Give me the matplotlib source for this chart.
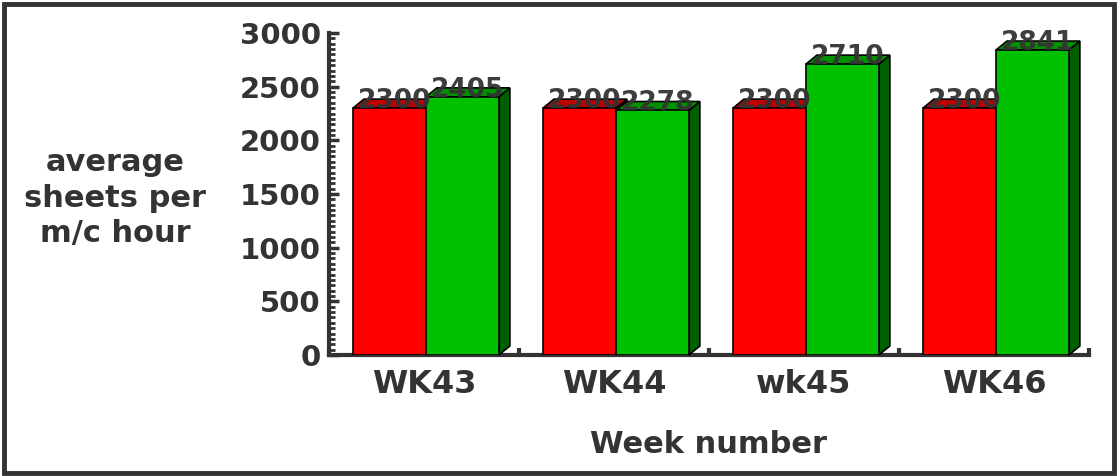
import numpy as np
import matplotlib.pyplot as plt
from matplotlib.patches import Polygon, Rectangle
from matplotlib.ticker import MultipleLocator

# data
weeks = ["WK43", "WK44", "wk45", "WK46"]
target = [2300, 2300, 2300, 2300]
actual = [2405, 2278, 2710, 2841]

front_cols = ["#ff0000", "#00c000"]
top_cols = ["#c00000", "#009000"]
side_cols = ["#900000", "#006000"]
txt = "#333333"

plt.rcParams['font.family'] = 'DejaVu Sans'
plt.rcParams['font.weight'] = 'bold'

fig = plt.figure(figsize=(11.17, 4.76), dpi=100)
ax = fig.add_axes([329 / 1117, 1 - 355 / 476, 760 / 1117, 322 / 476])

x = np.arange(len(weeks)) + 0.5
w = 0.384
dx = 11 / 190       # depth offset in x data units
dy = 9 / 322 * 3000  # depth offset in y data units

for k, vals in enumerate([target, actual]):
    xs = x - w / 2 + 0.01 + (k * w)
    ax.bar(xs, vals, width=w, color=front_cols[k], edgecolor="black", linewidth=1.2, zorder=3)
    for xi, v in zip(xs, vals):
        l, r = xi - w / 2, xi + w / 2
        top = Polygon([(l, v), (l + dx, v + dy), (r + dx, v + dy), (r, v)], closed=True,
                      facecolor=top_cols[k], edgecolor="black", linewidth=1.2, zorder=2.9,
                      clip_on=False)
        side = Polygon([(r, 0), (r + dx, dy), (r + dx, v + dy), (r, v)], closed=True,
                       facecolor=side_cols[k], edgecolor="black", linewidth=1.2, zorder=2.8,
                       clip_on=False)
        ax.add_patch(top)
        ax.add_patch(side)
        ax.text(xi + dx / 2, v, f"{v}", ha="center", va="baseline", fontsize=19,
                fontweight="bold", color=txt, alpha=0.95, zorder=5, clip_on=False)

ax.set_xlim(0, len(weeks))
ax.set_ylim(0, 3000)
ax.set_xticks(x)
ax.set_xticklabels(weeks)
ax.xaxis.set_minor_locator(MultipleLocator(1))
ax.yaxis.set_major_locator(MultipleLocator(500))
ax.yaxis.set_minor_locator(MultipleLocator(50))

ax.tick_params(axis="y", which="major", direction="in", length=7, width=2.5, color=txt,
               labelsize=21, labelcolor=txt, pad=6)
ax.tick_params(axis="y", which="minor", direction="in", length=4, width=2, color=txt)
ax.tick_params(axis="x", which="major", length=0, labelsize=23, labelcolor=txt, pad=10)
ax.tick_params(axis="x", which="minor", direction="in", length=5, width=3, color=txt)
for lab in ax.get_xticklabels() + ax.get_yticklabels():
    lab.set_fontweight("bold")

for s in ["top", "right"]:
    ax.spines[s].set_visible(False)
for s in ["left", "bottom"]:
    ax.spines[s].set_linewidth(3)
    ax.spines[s].set_color(txt)
ax.set_facecolor("none")

fig.text(115 / 1117, 1 - 198 / 476, "average\nsheets per\nm/c hour", ha="center", va="center",
         fontsize=22, fontweight="bold", color=txt, linespacing=1.3)
fig.text(708 / 1117, 1 - 453 / 476, "Week number", ha="center", va="baseline",
         fontsize=22, fontweight="bold", color=txt)

fig.patches.append(Rectangle((4 / 1117, 3 / 476), 1110 / 1117, 469 / 476, transform=fig.transFigure,
                             fill=False, edgecolor=txt, linewidth=3.5))

fig.savefig("out.png", dpi=100)
